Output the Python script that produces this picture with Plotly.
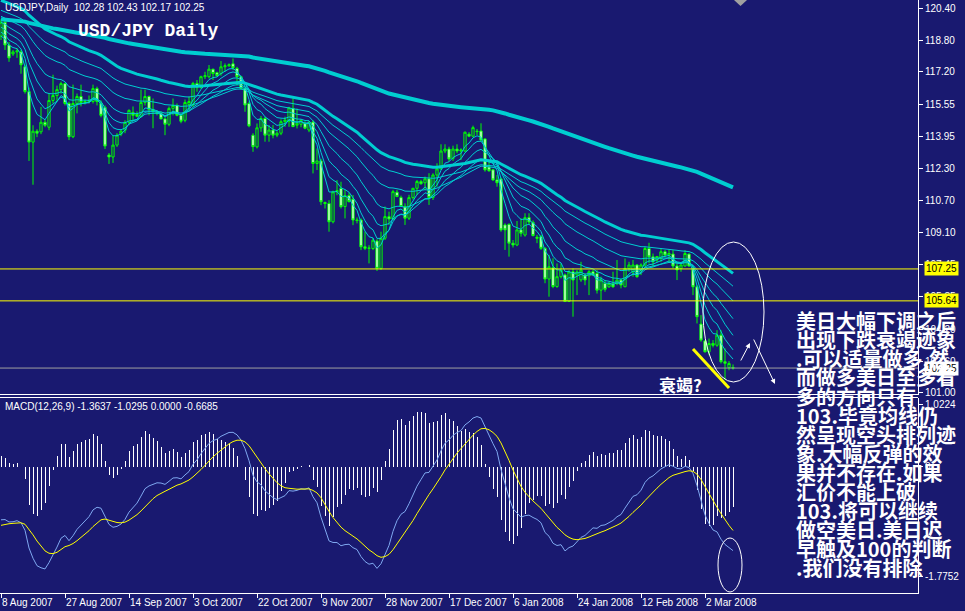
import plotly.graph_objects as go

# ---------------- data ----------------
opens = [119.00,119.70,118.55,118.10,118.20,118.20,117.45,116.20,113.65,114.20,
         114.17,114.65,114.40,115.75,116.00,116.30,116.60,115.60,113.92,115.60,
         115.95,115.65,115.70,115.70,116.35,115.60,115.40,113.00,112.90,113.50,
         114.05,114.25,114.65,115.15,115.05,114.95,115.65,115.95,115.30,115.15,
         115.10,114.82,114.55,115.35,115.50,115.00,114.75,115.55,115.52,116.61,
         116.40,116.95,116.95,117.33,117.15,117.11,117.45,117.50,117.60,117.37,
         116.95,116.36,115.60,114.00,113.41,114.37,114.84,114.00,114.26,114.00,
         114.10,114.68,114.70,115.35,114.50,114.55,114.60,114.26,114.66,112.57,
         112.70,110.60,110.55,109.63,111.14,111.31,110.40,110.95,110.77,109.72,
         109.72,108.37,108.29,108.28,108.66,107.28,108.80,109.89,109.77,111.12,
         110.85,110.40,109.81,110.85,111.32,111.66,111.60,111.80,110.85,111.99,
         112.30,113.20,113.30,112.83,113.30,113.20,113.20,114.05,113.95,114.20,
         114.21,113.81,112.40,112.25,111.74,111.79,109.47,109.50,108.55,108.46,
         109.22,108.96,109.84,109.60,108.85,108.88,108.29,106.74,107.31,106.36,
         106.86,106.95,105.61,107.11,106.95,106.70,106.94,106.90,107.11,107.02,
         106.18,106.52,106.35,106.50,106.52,106.69,106.35,107.28,107.10,107.45,
         107.19,107.45,108.28,107.86,107.70,107.78,108.12,107.95,108.00,107.40,
         107.28,107.40,108.00,107.28,106.35,104.47,103.62,103.07,103.49,103.40,
         103.91,102.57,102.28,102.28]
highs = [119.85,119.80,118.70,118.30,118.40,118.30,117.55,116.40,114.50,114.30,
         115.43,114.80,116.10,117.05,116.50,116.70,116.65,115.70,116.55,116.10,
         116.55,115.80,116.00,116.55,116.45,115.75,115.50,113.10,114.00,114.10,
         114.30,114.75,115.30,115.45,115.20,116.30,116.30,116.00,115.85,115.25,
         115.20,114.90,115.45,115.85,115.60,115.10,115.80,115.95,116.69,116.78,
         117.00,117.20,117.54,117.35,117.20,117.74,117.62,117.62,117.87,117.45,
         117.00,116.40,115.70,114.10,114.59,114.97,114.93,114.51,114.51,114.20,
         114.80,114.93,115.43,115.85,115.35,114.80,114.70,114.70,114.75,113.33,
         112.80,110.65,110.72,111.20,111.73,111.65,111.23,111.10,110.98,109.85,
         109.80,109.13,108.45,108.80,108.75,109.13,110.40,110.14,111.24,111.24,
         110.95,110.56,110.99,111.32,111.74,111.75,111.91,112.08,112.08,112.58,
         113.54,113.54,113.42,113.47,113.54,113.34,114.18,114.15,114.48,114.31,
         114.60,113.84,112.67,112.30,111.99,111.86,109.55,109.55,108.71,109.67,
         109.81,110.06,110.06,109.70,108.97,108.97,108.35,107.96,107.79,107.53,
         107.53,107.02,107.19,107.28,107.19,107.61,107.02,107.19,107.20,107.19,
         106.86,106.69,106.60,107.11,107.70,106.77,107.78,107.61,107.70,107.50,
         107.53,108.37,108.57,108.03,107.90,108.28,108.20,108.23,108.20,107.53,
         107.53,108.20,108.03,107.36,106.44,104.92,103.66,103.74,103.66,104.16,
         104.16,103.24,102.60,102.43]
lows = [118.80,118.30,117.70,118.00,117.90,117.10,116.10,112.70,111.50,113.90,
        114.05,114.40,114.25,115.60,115.70,116.10,115.50,113.75,113.85,115.10,
        115.45,115.55,115.60,115.60,115.50,114.90,113.30,112.55,112.60,113.40,
        113.95,114.10,114.50,114.70,114.90,114.90,115.50,115.00,114.35,115.00,
        114.80,114.00,114.45,115.00,114.95,114.60,114.65,115.25,115.43,116.19,
        116.35,116.83,116.86,116.78,116.95,117.00,117.20,117.45,117.28,116.50,
        116.30,115.18,114.40,113.16,113.33,114.17,113.67,113.67,113.84,113.90,
        114.00,114.42,114.42,114.42,114.34,114.40,114.30,114.15,112.07,112.24,
        110.47,110.30,109.13,109.55,110.97,110.30,109.80,110.60,109.46,109.55,
        108.20,108.20,107.53,108.20,107.15,107.20,108.71,109.47,109.72,110.90,
        110.40,109.47,109.72,110.75,110.98,111.50,111.24,110.48,110.73,111.40,
        112.25,113.09,112.67,112.70,113.09,112.75,113.14,113.90,113.90,114.01,
        113.67,112.16,112.16,111.70,111.40,109.13,108.21,107.87,108.33,108.40,
        108.88,108.88,109.47,108.90,108.55,108.21,106.53,105.85,106.28,106.30,
        106.77,105.58,105.58,104.84,105.93,106.60,106.43,105.93,106.90,106.01,
        105.68,106.10,106.30,106.30,106.43,106.27,106.35,107.11,106.86,106.80,
        106.94,107.36,107.53,107.36,107.60,107.61,107.86,107.61,107.28,106.69,
        107.11,107.36,107.36,105.93,104.50,103.58,103.03,102.90,103.29,103.32,
        102.48,101.64,102.14,102.17]
closes = [119.70,118.55,117.90,118.20,118.25,117.55,116.20,113.65,114.20,114.10,
          114.65,114.50,115.75,116.00,116.30,116.60,115.60,113.92,115.60,115.95,
          115.65,115.70,115.75,116.35,115.70,115.00,113.45,112.90,113.50,114.00,
          114.20,114.65,115.25,115.00,114.95,115.65,115.95,115.30,115.20,115.10,
          114.82,114.55,115.35,115.50,115.00,114.70,115.65,115.70,116.61,116.40,
          116.95,117.00,117.33,117.11,117.00,117.45,117.50,117.55,117.40,116.95,
          116.36,115.52,114.47,113.42,114.37,114.84,114.00,114.26,114.00,114.10,
          114.68,114.77,115.38,114.43,114.60,114.75,114.35,114.66,112.57,112.70,
          110.64,110.55,109.63,111.14,111.20,110.39,110.95,110.65,109.72,109.70,
          108.37,108.29,108.30,108.70,107.28,108.80,109.89,109.77,111.15,110.90,
          110.40,109.81,110.85,111.32,111.66,111.55,111.80,110.85,111.99,112.30,
          113.20,113.30,112.80,113.30,113.20,113.25,114.15,113.95,114.38,114.18,
          113.76,112.25,112.20,111.74,111.60,109.22,109.22,108.55,108.46,109.22,
          109.05,109.84,109.62,108.93,108.80,108.29,106.74,107.36,106.36,106.86,
          107.19,105.61,107.10,106.69,107.10,107.19,106.69,107.11,106.94,106.18,
          106.69,106.22,106.52,106.35,106.69,106.44,107.28,107.45,107.45,106.86,
          107.45,108.28,107.86,107.61,107.88,108.12,107.95,108.03,107.40,107.20,
          107.45,108.03,107.40,106.35,104.84,103.66,103.07,103.49,103.40,103.91,
          102.57,102.49,102.48,102.25]

tick_labels = ["8 Aug 2007", "27 Aug 2007", "14 Sep 2007", "3 Oct 2007", "22 Oct 2007",
               "9 Nov 2007", "28 Nov 2007", "17 Dec 2007", "6 Jan 2008", "24 Jan 2008",
               "12 Feb 2008", "2 Mar 2008"]
bars_per_label = 16

price_ticks = [120.40, 118.80, 117.20, 115.55, 113.95, 112.30, 110.70, 109.10,
               107.45, 105.85, 104.20, 102.60, 101.00]
macd_ticks = [1.0224, 0.0, -1.7752]
macd_tick_text = ["1.0224", "0", "-1.7752"]

# moving-average ribbon: periods and their starting values read at the first bar
ma_periods = [5, 8, 13, 21, 34, 48, 62, 200]
ma_start = [119.0, 119.2, 119.45, 119.7, 120.0, 120.3, 120.8, 119.85]
ma_widths = [1, 1, 1, 1, 1, 1, 3, 4]

# MACD(12,26,9): starting EMA values and signal read at the first bar
macd_fast_start, macd_slow_start, macd_signal_start = 119.30, 120.16, -0.95

level_lines = [107.25, 105.64]
bid_price = 102.25

note_lines = ["美日大幅下调之后", "出现下跌衰竭迹象", ".可以适量做多.然", "而做多美日至多看",
              "多的方向只有", "103.毕竟均线仍", "然呈现空头排列迹", "象.大幅反弹的效",
              "果并不存在.如果", "汇价不能上破", "103.将可以继续", "做空美日.美日迟",
              "早触及100的判断", ".我们没有排除"]

# ---------------- indicators ----------------
def ema(values, period, start):
    a = 2.0 / (period + 1)
    out = [start]
    e = start
    for v in values[1:]:
        e = e + a * (v - e)
        out.append(e)
    return out

n = len(closes)
xs = list(range(n))
fast = ema(closes, 12, macd_fast_start)
slow = ema(closes, 26, macd_slow_start)
macd_main = [f - s for f, s in zip(fast, slow)]
macd_sig = ema(macd_main, 9, macd_signal_start)
macd_hist = [2 * (m - s) for m, s in zip(macd_main, macd_sig)]

# ---------------- figure ----------------
W, H = 965, 611
BOT = 18
PH = H - BOT
RIGHT = 918
BG = "#191970"

def px(x):
    return x / W

def py(y):
    return 1 - y / PH

fig = go.Figure()

fig.add_trace(go.Candlestick(
    x=xs, open=opens, high=highs, low=lows, close=closes,
    xaxis="x2", yaxis="y", whiskerwidth=0,
    increasing=dict(line=dict(color="#00ff00", width=1), fillcolor=BG),
    decreasing=dict(line=dict(color="#00ff00", width=1), fillcolor="#ffffff"),
    showlegend=False, hoverinfo="skip"))

for p, s, w in zip(ma_periods, ma_start, ma_widths):
    fig.add_trace(go.Scatter(x=xs, y=ema(closes, p, s), mode="lines",
                             line=dict(color="#00ced1", width=w),
                             xaxis="x2", yaxis="y", showlegend=False, hoverinfo="skip"))

fig.add_trace(go.Bar(x=xs, y=macd_hist, width=0.25, marker=dict(color="#ffffff", line=dict(width=0)),
                     xaxis="x", yaxis="y2", showlegend=False, hoverinfo="skip"))
fig.add_trace(go.Scatter(x=xs, y=macd_main, mode="lines", line=dict(color="#7fa8f0", width=1),
                         xaxis="x", yaxis="y2", showlegend=False, hoverinfo="skip"))
fig.add_trace(go.Scatter(x=xs, y=macd_sig, mode="lines", line=dict(color="#ffff00", width=1),
                         xaxis="x", yaxis="y2", showlegend=False, hoverinfo="skip"))

xdom = [0, RIGHT / W]
xr = [-0.25, (RIGHT - 1) / 4.0]
tickvals_x = [i * bars_per_label for i in range(len(tick_labels))]

axis_font = dict(family="Liberation Sans, Arial, sans-serif", size=10, color="#ffffff")

fig.update_layout(
    width=W, height=H,
    margin=dict(l=0, r=0, t=0, b=BOT, autoexpand=False),
    paper_bgcolor=BG, plot_bgcolor=BG,
    bargap=0, boxgap=0.2,
    xaxis=dict(domain=xdom, anchor="y2", range=xr, tickvals=tickvals_x, ticktext=tick_labels,
               tickangle=0, ticklabelposition="outside right", ticks="outside", ticklen=4,
               tickcolor="#ffffff", automargin=False,
               showline=True, linecolor="#ffffff", linewidth=1, showgrid=False, zeroline=False,
               tickfont=axis_font, rangeslider=dict(visible=False), fixedrange=True),
    xaxis2=dict(domain=xdom, anchor="y", matches="x", range=xr, showticklabels=False, ticks="",
                automargin=False, showline=False, showgrid=False, zeroline=False,
                rangeslider=dict(visible=False)),
    yaxis=dict(domain=[1 - 395 / PH, 1], anchor="x2", side="right", automargin=False,
               range=[100.89, 120.82], tickvals=price_ticks,
               ticktext=["%.2f" % v for v in price_ticks],
               ticks="outside", ticklen=4, tickcolor="#ffffff", showline=True,
               linecolor="#ffffff", linewidth=1, showgrid=False, zeroline=False, tickfont=axis_font),
    yaxis2=dict(domain=[0, 1 - 398 / PH], anchor="x", side="right", automargin=False,
                range=[-2.05, 1.12], tickvals=macd_ticks, ticktext=macd_tick_text,
                ticks="outside", ticklen=4, tickcolor="#ffffff", showline=True,
                linecolor="#ffffff", linewidth=1, showgrid=False, zeroline=False, tickfont=axis_font),
)

shapes = []
for lv in level_lines:
    shapes.append(dict(type="line", xref="paper", yref="y", x0=0, x1=RIGHT / W, y0=lv, y1=lv,
                       line=dict(color="#ffff00", width=1)))
shapes.append(dict(type="line", xref="paper", yref="y", x0=0, x1=RIGHT / W, y0=bid_price, y1=bid_price,
                   line=dict(color="#a0a0a0", width=1)))
# panel separators
for yy in (394.5, 397.5):
    shapes.append(dict(type="line", xref="paper", yref="paper", x0=0, x1=RIGHT / W,
                       y0=py(yy), y1=py(yy), line=dict(color="#ffffff", width=1)))
# hand-drawn marks
shapes.append(dict(type="line", xref="paper", yref="paper", x0=px(693), y0=py(349), x1=px(729), y1=py(388),
                   line=dict(color="#ffff00", width=3)))
shapes.append(dict(type="circle", xref="paper", yref="paper", x0=px(703), x1=px(764), y0=py(382), y1=py(242),
                   line=dict(color="#ffffff", width=1)))
shapes.append(dict(type="circle", xref="paper", yref="paper", x0=px(718), x1=px(742), y0=py(592), y1=py(538),
                   line=dict(color="#ffffff", width=1)))
shapes.append(dict(type="path", xref="paper", yref="paper",
                   path="M %f,%f L %f,%f L %f,%f Z" % (px(734), py(0), px(747), py(0), px(740.5), py(6)),
                   fillcolor="#a0a0a0", line=dict(width=0)))
fig.update_layout(shapes=shapes)

ann = []
ann.append(dict(xref="paper", yref="paper", x=px(3), y=py(8), xanchor="left", yanchor="middle",
                text="USDJPY,Daily\u00a0\u00a0102.28 102.43 102.17 102.25", showarrow=False,
                font=dict(family="Liberation Sans, Arial", size=10, color="#ffffff")))
ann.append(dict(xref="paper", yref="paper", x=px(76), y=py(31), xanchor="left", yanchor="middle",
                text="<b>USD/JPY Daily</b>", showarrow=False,
                font=dict(family="Liberation Mono, DejaVu Sans Mono, monospace", size=18, color="#ffffff")))
ann.append(dict(xref="paper", yref="paper", x=px(3), y=py(407), xanchor="left", yanchor="middle",
                text="MACD(12,26,9) -1.3637 -1.0295 0.0000 -0.6685", showarrow=False,
                font=dict(family="Liberation Sans, Arial", size=10, color="#ffffff")))
# price boxes
for lv, bg in ((level_lines[0], "#ffff00"), (level_lines[1], "#ffff00"), (bid_price, "#ffffff")):
    ann.append(dict(xref="paper", yref="y", x=px(924), y=lv, xanchor="left", yanchor="middle",
                    text="%.2f" % lv, showarrow=False, bgcolor=bg, borderpad=1,
                    font=dict(family="Liberation Sans, Arial", size=10, color="#000000")))
ann.append(dict(xref="paper", yref="paper", x=px(657), y=py(384), xanchor="left", yanchor="middle",
                text="<b>衰竭?</b>", showarrow=False,
                font=dict(family="Noto Sans CJK SC", size=17, color="#ffffff")))
for k, line in enumerate(note_lines):
    ann.append(dict(xref="paper", yref="paper", x=px(794), y=py(320 + 19 * k), xanchor="left",
                    yanchor="middle", text="<b>%s</b>" % line, showarrow=False,
                    font=dict(family="Noto Sans CJK SC", size=20, color="#ffffff")))
# arrows
ann.append(dict(xref="paper", yref="paper", x=px(750), y=py(343), ax=-10, ay=19, text="",
                showarrow=True, arrowhead=2, arrowsize=1, arrowwidth=1, arrowcolor="#ffffff"))
ann.append(dict(xref="paper", yref="paper", x=px(775), y=py(384), ax=-22, ay=-46, text="",
                showarrow=True, arrowhead=2, arrowsize=1, arrowwidth=1, arrowcolor="#ffffff"))
fig.update_layout(annotations=ann)

fig.write_html("out.html", config={"displayModeBar": False, "staticPlot": True},
               post_script="document.body.style.margin='0px';document.body.style.overflow='hidden';")
